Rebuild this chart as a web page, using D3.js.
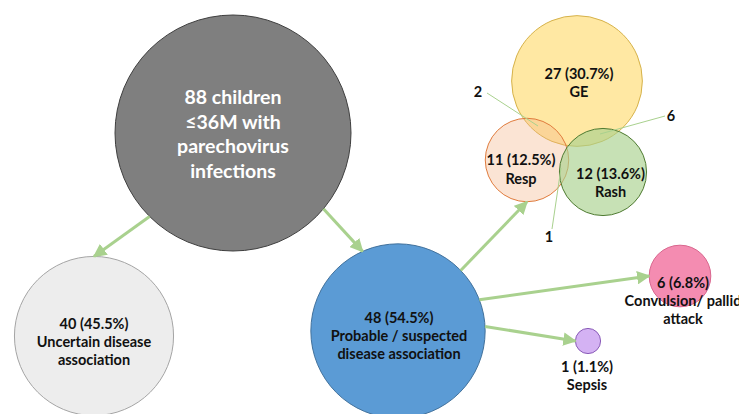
<!DOCTYPE html>
<html>
<head>
<meta charset="utf-8">
<script src="https://cdn.jsdelivr.net/npm/d3@7"></script>
<style>
	body { margin: 0; background: white; }
	text { font-family: Lato, "Noto Sans", sans-serif; font-weight: 700; }
</style>
</head>
<body>
<svg id="chart" width="739" height="414"></svg>
<script>
// data
var nodeNames = ["all", "uncertain", "probable", "GE", "Resp", "Rash", "Convulsion", "Sepsis"];
var nodeCounts = [88, 40, 48, 27, 11, 12, 6, 1];
var nodePct = ["", "45.5%", "54.5%", "30.7%", "12.5%", "13.6%", "6.8%", "1.1%"];
var nodeLabels = [
	["88 children", "\u226436M with", "parechovirus", "infections"],
	["Uncertain disease", "association"],
	["Probable / suspected", "disease association"],
	["GE"],
	["Resp"],
	["Rash"],
	["Convulsion/ pallid", "attack"],
	["Sepsis"]
];
var overlapPairs = [["GE", "Resp"], ["GE", "Rash"], ["Resp", "Rash"]];
var overlapCounts = [2, 6, 1];
var links = [["all", "uncertain"], ["all", "probable"], ["probable", "Resp"], ["probable", "Convulsion"], ["probable", "Sepsis"]];

// layout
var pos = {
	all: {x: 233, y: 133, fill: "#7f7f7f", stroke: "#3f3f3f", op: 1, color: "white", size: 19.5, lh: 24.7, dy: 0.5, dx: 0},
	uncertain: {x: 94, y: 336, fill: "#ededed", stroke: "#a5a5a5", op: 1, color: "#111", size: 14.5, lh: 18, dy: 5, dx: 0},
	probable: {x: 398, y: 331, fill: "#5b9bd5", stroke: "#41719c", op: 1, color: "#111", size: 14.5, lh: 18, dy: 4, dx: 1},
	GE: {x: 577, y: 81, fill: "#ffd966", stroke: "#d6b24a", op: 0.6, color: "#111", size: 14.5, lh: 18, dy: 1, dx: 2},
	Resp: {x: 527, y: 160, fill: "#f4b183", stroke: "#e07b3c", op: 0.35, color: "#111", size: 14.5, lh: 19, dy: 8.5, dx: -6},
	Rash: {x: 603, y: 172, fill: "#a9d18e", stroke: "#4f7b32", op: 0.65, color: "#111", size: 14.5, lh: 18, dy: 10, dx: 7.5},
	Convulsion: {x: 680, y: 276, fill: "#f48cb1", stroke: "#d9668e", op: 1, color: "#111", size: 14.5, lh: 18, dy: 24, dx: 3},
	Sepsis: {x: 588, y: 341, fill: "#d4b2f3", stroke: "#8a5cb8", op: 1, color: "#111", size: 14.5, lh: 18, dy: 34, dx: -1}
};
// arrow start / end angles (degrees) on source / target edge
var linkAngles = [[135, -90], [40, -114], [-44, 90], [-21, 180], [-3, 180]];
// overlap label placement: [label x, label y, line start, line end]
var overlapPos = [
	{lx: 478, ly: 91, x1: 487, y1: 93, x2: 538, y2: 126},
	{lx: 671, ly: 115, x1: 665, y1: 116, x2: 600, y2: 134},
	{lx: 549, ly: 236, x1: 552, y1: 229, x2: 561, y2: 168}
];

var svg = d3.select("#chart");
var r = d3.scaleSqrt().domain([0, 88]).range([0, 118]);
var idx = {};
nodeNames.forEach(function(n, i) { idx[n] = i; });

svg.append("defs").append("marker")
	.attr("id", "arrow")
	.attr("viewBox", "0 0 10 10")
	.attr("refX", 9).attr("refY", 5)
	.attr("markerWidth", 4.5).attr("markerHeight", 4.5)
	.attr("markerUnits", "strokeWidth")
	.attr("orient", "auto")
	.append("path")
	.attr("d", "M0,0L10,5L0,10Z")
	.attr("fill", "#a9d18e");

function edge(name, deg) {
	var p = pos[name], a = deg * Math.PI / 180, rr = r(nodeCounts[idx[name]]);
	return [p.x + rr * Math.cos(a), p.y + rr * Math.sin(a)];
}

// circles
svg.selectAll("circle.node")
	.data(nodeNames)
	.enter().append("circle")
	.attr("class", "node")
	.attr("cx", function(d) { return pos[d].x; })
	.attr("cy", function(d) { return pos[d].y; })
	.attr("r", function(d) { return r(nodeCounts[idx[d]]); })
	.attr("fill", function(d) { return pos[d].fill; })
	.attr("fill-opacity", function(d) { return pos[d].op; })
	.attr("stroke", function(d) { return pos[d].stroke; })
	.attr("stroke-width", 1);

// arrows
svg.selectAll("line.link")
	.data(links)
	.enter().append("line")
	.attr("class", "link")
	.each(function(d, i) {
		var s = edge(d[0], linkAngles[i][0]), t = edge(d[1], linkAngles[i][1]);
		d3.select(this)
			.attr("x1", s[0]).attr("y1", s[1])
			.attr("x2", t[0]).attr("y2", t[1]);
	})
	.attr("stroke", "#a9d18e")
	.attr("stroke-width", 3)
	.attr("marker-end", "url(#arrow)");

// overlap leader lines
svg.selectAll("line.leader")
	.data(overlapCounts)
	.enter().append("line")
	.attr("class", "leader")
	.attr("x1", function(d, i) { return overlapPos[i].x1; })
	.attr("y1", function(d, i) { return overlapPos[i].y1; })
	.attr("x2", function(d, i) { return overlapPos[i].x2; })
	.attr("y2", function(d, i) { return overlapPos[i].y2; })
	.attr("stroke", "#a9d18e")
	.attr("stroke-width", 1);

svg.selectAll("text.ov")
	.data(overlapCounts)
	.enter().append("text")
	.attr("class", "ov")
	.attr("x", function(d, i) { return overlapPos[i].lx; })
	.attr("y", function(d, i) { return overlapPos[i].ly; })
	.attr("text-anchor", "middle")
	.attr("dominant-baseline", "central")
	.attr("font-size", 14.5)
	.attr("fill", "#111")
	.text(function(d) { return d; });

// node labels
nodeNames.forEach(function(n, i) {
	var p = pos[n];
	var lines = nodePct[i] ? [nodeCounts[i] + " (" + nodePct[i] + ")"].concat(nodeLabels[i]) : nodeLabels[i];
	var cy = p.y + p.dy - (lines.length - 1) * p.lh / 2;
	var t = svg.append("text")
		.attr("text-anchor", "middle")
		.attr("font-size", p.size)
		.attr("fill", p.color);
	lines.forEach(function(l, j) {
		t.append("tspan")
			.attr("x", p.x + p.dx)
			.attr("y", cy + j * p.lh)
			.attr("dominant-baseline", "central")
			.text(l);
	});
});
</script>
</body>
</html>
